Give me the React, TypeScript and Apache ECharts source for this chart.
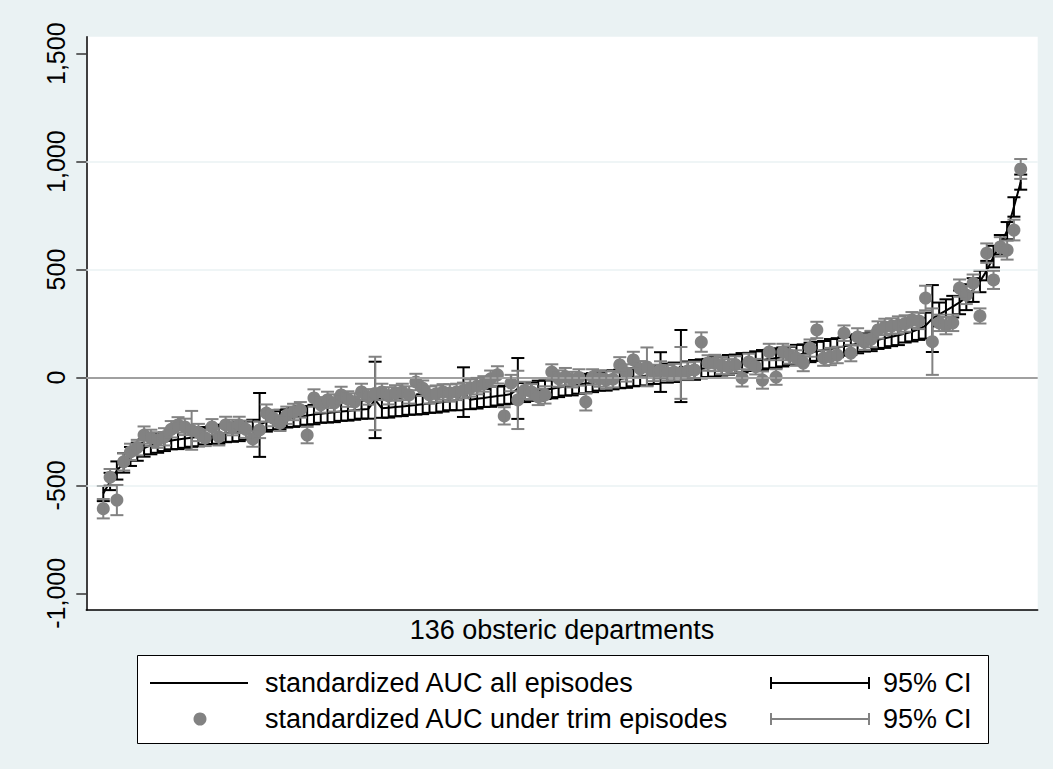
import React, { useEffect, useRef } from 'react';
import * as echarts from 'echarts';

// 136 departments, sorted by the standardized AUC of all episodes
const departments: number[] = Array.from({ length: 136 }, (_, i) => i + 1);

const allAUC: number[] = [
  -538, -482, -431, -396, -366, -344, -327, -314, -305, -298,
  -292, -287, -283, -279, -275, -270, -266, -263, -259, -255,
  -250, -246, -240, -220, -205, -200, -195, -190, -185, -180,
  -176, -172, -168, -165, -161, -158, -155, -152, -149, -146,
  -104, -143, -140, -137, -134, -131, -128, -124, -121, -118,
  -114, -110, -106, -68, -103, -99, -95, -90, -86, -82,
  -77, -51, -70, -66, -61, -57, -52, -47, -42, -37,
  -32, -28, -24, -19, -15, -11, -7, -3, 1, 5,
  9, 13, 25, 20, 24, 53, 31, 35, 40, 44,
  49, 53, 58, 63, 68, 72, 77, 81, 85, 90,
  95, 100, 105, 110, 116, 121, 127, 132, 138, 144,
  150, 156, 162, 168, 175, 182, 189, 196, 204, 212,
  224, 240, 273, 292, 310, 328, 348, 372, 405, 445,
  495, 560, 615, 680, 790, 905,
];

const allCIHalf: number[] = [
  35, 40, 42, 45, 44, 42, 40, 42, 44, 43,
  41, 45, 43, 42, 44, 40, 42, 44, 41, 43,
  45, 42, 44, 148, 46, 43, 45, 42, 44, 46,
  43, 45, 42, 44, 46, 43, 45, 44, 42, 45,
  177, 44, 46, 43, 45, 42, 44, 46, 43, 45,
  44, 42, 46, 115, 44, 45, 42, 46, 44, 43,
  45, 141, 44, 42, 46, 43, 45, 44, 42, 46,
  43, 45, 44, 42, 46, 44, 43, 45, 42, 44,
  46, 43, 92, 44, 45, 167, 43, 46, 44, 42,
  45, 44, 46, 43, 45, 42, 44, 46, 43, 45,
  44, 42, 46, 43, 45, 44, 42, 46, 44, 43,
  45, 44, 42, 46, 43, 45, 44, 46, 42, 45,
  50, 60, 155, 55, 52, 50, 55, 60, 55, 50,
  45, 50, 45, 40, 45, 35,
];

const trimAUC: number[] = [
  -608, -462, -568, -391, -345, -325, -267, -280, -290, -275,
  -240, -220, -229, -245, -255, -280, -229, -275, -220, -232,
  -220, -240, -285, -243, -165, -188, -212, -175, -160, -150,
  -267, -95, -127, -104, -118, -81, -100, -113, -67, -90,
  -74, -67, -85, -72, -67, -81, -21, -50, -81, -75,
  -67, -72, -67, -60, -49, -40, -30, -6, 12, -178,
  -26, -104, -60, -67, -90, -81, 25, -5, 4, -10,
  0, -113, 2, -5, -12, -8, 58, 21, 81, 40,
  49, 21, 35, 21, 25, 21, 30, 35, 164, 67,
  67, 55, 49, 60, -2, 72, 50, -12, 118, 2,
  118, 104, 90, 67, 136, 220, 90, 97, 104, 205,
  113, 188, 164, 178, 220, 234, 238, 243, 250, 267,
  262, 368, 166, 253, 240, 253, 414, 382, 437, 285,
  576, 452, 605, 590, 683, 966,
];

const trimCIHalf: number[] = [
  45, 38, 70, 40, 38, 36, 40, 38, 36, 40,
  38, 36, 38, 90, 40, 38, 36, 40, 38, 36,
  38, 40, 36, 38, 40, 38, 36, 40, 38, 36,
  38, 40, 36, 38, 40, 38, 36, 40, 38, 36,
  170, 38, 40, 36, 38, 40, 38, 36, 40, 38,
  36, 40, 38, 36, 40, 38, 36, 38, 40, 40,
  38, 135, 40, 36, 38, 40, 36, 38, 40, 36,
  38, 40, 36, 38, 40, 38, 36, 40, 38, 36,
  90, 38, 40, 36, 38, 120, 40, 38, 45, 36,
  38, 40, 36, 38, 40, 38, 36, 40, 38, 36,
  38, 40, 36, 38, 40, 38, 36, 40, 38, 36,
  38, 40, 36, 38, 40, 38, 36, 40, 38, 36,
  38, 57, 154, 38, 40, 38, 40, 42, 40, 35,
  45, 42, 45, 44, 48, 46,
];

const yTicks: number[] = [-1000, -500, 0, 500, 1000, 1500];
const gridValues: number[] = [-500, 500, 1000];
const xTitle = '136 obsteric departments';
const labelAll = 'standardized AUC all episodes';
const labelTrim = 'standardized AUC under trim episodes';
const labelCI = '95% CI';

const FONT = '"Liberation Sans", Arial, Helvetica, sans-serif';
const BG = '#EAF2F3';
const GRAY = '#828282';

function fmt(v: number): string {
  const s = Math.abs(v).toString().replace(/\B(?=(\d{3})+(?!\d))/g, ',');
  return (v < 0 ? '-' : '') + s;
}

function ciRenderer(color: string) {
  return (_params: any, api: any) => {
    const x = api.value(0);
    const lo = api.value(1);
    const hi = api.value(2);
    const a = api.coord([x, lo]);
    const b = api.coord([x, hi]);
    const hw = 6.5;
    const style = { stroke: color, lineWidth: 2 };
    return {
      type: 'group',
      children: [
        { type: 'line', shape: { x1: a[0], y1: a[1], x2: b[0], y2: b[1] }, style },
        { type: 'line', shape: { x1: a[0] - hw, y1: a[1], x2: a[0] + hw, y2: a[1] }, style },
        { type: 'line', shape: { x1: b[0] - hw, y1: b[1], x2: b[0] + hw, y2: b[1] }, style },
      ],
    };
  };
}

export default function App() {
  const ref = useRef<HTMLDivElement>(null);
  useEffect(() => {
    document.body.style.margin = '0';
    const chart = echarts.init(ref.current!, null, { renderer: 'svg' });

    const lineData = departments.map((d, i) => [d, allAUC[i]]);
    const allCI = departments.map((d, i) => [d, allAUC[i] - allCIHalf[i], allAUC[i] + allCIHalf[i]]);
    const dotData = departments.map((d, i) => [d, trimAUC[i]]);
    const trimCI = departments.map((d, i) => [d, trimAUC[i] - trimCIHalf[i], trimAUC[i] + trimCIHalf[i]]);

    const r1 = 683;
    const r2 = 719;
    const capH = 6;
    const fs = 27;

    const option: any = {
      animation: false,
      backgroundColor: BG,
      textStyle: { fontFamily: FONT },
      grid: {
        left: 86.3,
        right: 15.3,
        top: 36.7,
        bottom: 159,
        show: true,
        backgroundColor: '#ffffff',
        borderWidth: 0,
      },
      xAxis: {
        type: 'value',
        min: -1.5,
        max: 138.5,
        axisLine: { show: true, onZero: false, lineStyle: { color: '#000', width: 1.5 } },
        axisTick: { show: false },
        axisLabel: { show: false },
        splitLine: { show: false },
        name: xTitle,
        nameLocation: 'middle',
        nameGap: 6,
        nameTextStyle: { fontSize: fs, color: '#000', fontFamily: FONT, verticalAlign: 'top' },
      },
      yAxis: {
        type: 'value',
        min: -1077.4,
        max: 1578.8,
        axisLine: { show: true, onZero: false, lineStyle: { color: '#000', width: 1.5 } },
        axisTick: { show: true, length: 10, customValues: yTicks, lineStyle: { color: '#333', width: 1.5 } },
        axisLabel: {
          customValues: yTicks,
          rotate: 90,
          fontSize: 25,
          color: '#000',
          margin: 18,
          fontFamily: FONT,
          formatter: (v: number) => fmt(v),
        },
        splitLine: { show: false },
      },
      series: [
        {
          type: 'line',
          data: [],
          z: 1,
          silent: true,
          markLine: {
            silent: true,
            symbol: 'none',
            label: { show: false },
            animation: false,
            data: [
              ...gridValues.map((v) => ({ yAxis: v, lineStyle: { color: BG, width: 1.5, type: 'solid' } })),
              { yAxis: 0, lineStyle: { color: '#A0A0A0', width: 2, type: 'solid' } },
            ],
          },
        },
        {
          type: 'line',
          data: lineData,
          showSymbol: false,
          symbol: 'none',
          lineStyle: { color: '#000', width: 2 },
          z: 2,
        },
        {
          type: 'custom',
          data: allCI,
          encode: { x: 0, y: [1, 2] },
          renderItem: ciRenderer('#000'),
          z: 3,
        },
        {
          type: 'scatter',
          data: dotData,
          symbol: 'circle',
          symbolSize: 13,
          itemStyle: { color: GRAY, opacity: 1 },
          z: 4,
        },
        {
          type: 'custom',
          data: trimCI,
          encode: { x: 0, y: [1, 2] },
          renderItem: ciRenderer(GRAY),
          z: 5,
        },
      ],
      graphic: [
        {
          type: 'group',
          z: 100,
          children: [
            { type: 'rect', shape: { x: 137.5, y: 655.5, width: 851, height: 88 }, style: { fill: '#fff', stroke: '#000', lineWidth: 1 } },
            { type: 'line', shape: { x1: 150, y1: r1, x2: 248, y2: r1 }, style: { stroke: '#000', lineWidth: 2 } },
            { type: 'text', x: 265, y: r1, style: { text: labelAll, fontSize: fs, fill: '#000', fontFamily: FONT, verticalAlign: 'middle', align: 'left' } },
            { type: 'line', shape: { x1: 770, y1: r1, x2: 870, y2: r1 }, style: { stroke: '#000', lineWidth: 2 } },
            { type: 'line', shape: { x1: 771, y1: r1 - capH, x2: 771, y2: r1 + capH }, style: { stroke: '#000', lineWidth: 2 } },
            { type: 'line', shape: { x1: 869, y1: r1 - capH, x2: 869, y2: r1 + capH }, style: { stroke: '#000', lineWidth: 2 } },
            { type: 'text', x: 883, y: r1, style: { text: labelCI, fontSize: fs, fill: '#000', fontFamily: FONT, verticalAlign: 'middle', align: 'left' } },
            { type: 'circle', shape: { cx: 200, cy: r2, r: 6.5 }, style: { fill: GRAY } },
            { type: 'text', x: 265, y: r2, style: { text: labelTrim, fontSize: fs, fill: '#000', fontFamily: FONT, verticalAlign: 'middle', align: 'left' } },
            { type: 'line', shape: { x1: 770, y1: r2, x2: 870, y2: r2 }, style: { stroke: GRAY, lineWidth: 2 } },
            { type: 'line', shape: { x1: 771, y1: r2 - capH, x2: 771, y2: r2 + capH }, style: { stroke: GRAY, lineWidth: 2 } },
            { type: 'line', shape: { x1: 869, y1: r2 - capH, x2: 869, y2: r2 + capH }, style: { stroke: GRAY, lineWidth: 2 } },
            { type: 'text', x: 883, y: r2, style: { text: labelCI, fontSize: fs, fill: '#000', fontFamily: FONT, verticalAlign: 'middle', align: 'left' } },
          ],
        },
      ],
    };

    chart.setOption(option);
    return () => chart.dispose();
  }, []);
  return <div ref={ref} style={{ width: 1053, height: 769 }} />;
}
